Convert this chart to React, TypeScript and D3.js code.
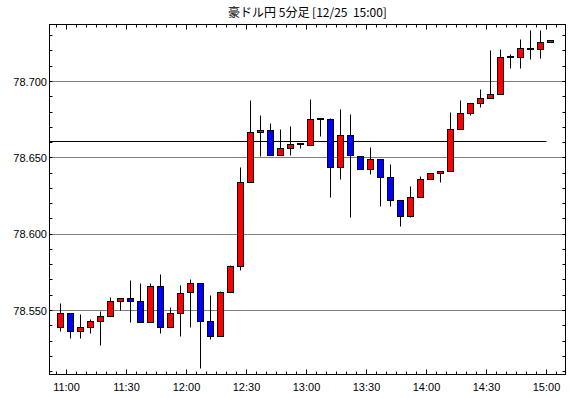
import React from "react";
import * as d3 from "d3";

const title = "豪ドル円 5分足 [12/25  15:00]";
const times = [
  "10:55","11:00","11:05","11:10","11:15","11:20","11:25","11:30","11:35","11:40",
  "11:45","11:50","11:55","12:00","12:05","12:10","12:15","12:20","12:25","12:30",
  "12:35","12:40","12:45","12:50","12:55","13:00","13:05","13:10","13:15","13:20",
  "13:25","13:30","13:35","13:40","13:45","13:50","13:55","14:00","14:05","14:10",
  "14:15","14:20","14:25","14:30","14:35","14:40","14:45","14:50","14:55","15:00",
];
const open = [
  78.5391,78.5483,78.5365,78.5391,78.5431,78.5463,78.5562,78.5581,78.5562,78.5424,
  78.5660,78.5391,78.5483,78.5620,78.5679,78.5431,78.5332,78.5621,78.5791,78.6341,
  78.6668,78.6682,78.6518,78.6564,78.6590,78.6583,78.6754,78.6754,78.6439,78.6649,
  78.6511,78.6422,78.6492,78.6374,78.6223,78.6118,78.6243,78.6361,78.6400,78.6413,
  78.6688,78.6793,78.6859,78.6891,78.6917,78.7160,78.7160,78.7216,78.7212,78.7258,
];
const high = [
  78.5544,78.5483,78.5472,78.5444,78.5493,78.5583,78.5581,78.5699,78.5675,78.5675,
  78.5734,78.5522,78.5662,78.5701,78.5679,78.5596,78.5625,78.5795,78.6435,78.6874,
  78.6775,78.6723,78.6684,78.6703,78.6590,78.6880,78.6754,78.6760,78.6815,78.6782,
  78.6511,78.6566,78.6492,78.6454,78.6223,78.6312,78.6376,78.6400,78.6413,78.6795,
  78.6874,78.6859,78.6946,78.7201,78.7212,78.7180,78.7273,78.7332,78.7332,78.7271,
];
const low = [
  78.5362,78.5317,78.5317,78.5349,78.5271,78.5463,78.5503,78.5424,78.5424,78.5424,
  78.5349,78.5391,78.5330,78.5389,78.5118,78.5310,78.5332,78.5621,78.5762,78.6341,
  78.6509,78.6518,78.6518,78.6518,78.6564,78.6583,78.6640,78.6243,78.6361,78.6112,
  78.6422,78.6393,78.6181,78.6181,78.6050,78.6112,78.6243,78.6361,78.6338,78.6413,
  78.6688,78.6777,78.6830,78.6891,78.6917,78.7085,78.7085,78.7147,78.7149,78.7258,
];
const close = [
  78.5483,78.5365,78.5391,78.5431,78.5463,78.5562,78.5581,78.5562,78.5424,78.5660,
  78.5391,78.5483,78.5614,78.5679,78.5431,78.5332,78.5621,78.5788,78.6341,78.6668,
  78.6682,78.6518,78.6564,78.6590,78.6590,78.6754,78.6754,78.6439,78.6649,78.6513,
  78.6422,78.6492,78.6374,78.6223,78.6118,78.6243,78.6361,78.6400,78.6413,78.6688,
  78.6793,78.6859,78.6891,78.6917,78.7160,78.7160,78.7219,78.7216,78.7258,78.7271,
];
const refLevel = 78.6605;
const yTickLabels = ["78.550", "78.600", "78.650", "78.700"];
const xTickLabels = ["11:00", "11:30", "12:00", "12:30", "13:00", "13:30", "14:00", "14:30", "15:00"];

const toMin = (s: string) => {
  const [h, m] = s.split(":").map(Number);
  return h * 60 + m;
};

export default function App() {
  const W = 570, H = 398;
  const left = 49.5, right = 565.5, top = 24.5, bottom = 374.5;
  const x = d3.scaleLinear().domain([660, 690]).range([66.5, 126.5]);
  const y = d3.scaleLinear().domain([78.55, 78.7]).range([310.5, 81.5]);
  const domMin = x.invert(left), domMax = x.invert(right);
  const minuteTicks = d3.range(Math.ceil(domMin / 5) * 5, domMax, 5);
  const vMin = y.invert(bottom), vMax = y.invert(top);
  const yMinor = d3.range(Math.ceil(vMin * 100) / 100, vMax, 0.01);
  const font = "'Liberation Sans', Arial, sans-serif";
  const snap = (v: number) => Math.round(v - 0.5) + 0.5;

  return (
    <svg width={W} height={H} style={{ position: "absolute", left: 0, top: 0, background: "#fff" }}>
      <rect x={0} y={0} width={W} height={H} fill="#fff" />
      <text x={(left + right) / 2} y={17} textAnchor="middle" fontSize={12}
        fontFamily="'Noto Sans CJK JP', sans-serif" fill="#000" style={{ whiteSpace: "pre" }}>{title}</text>
      {yTickLabels.map((t) => (
        <line key={"g" + t} x1={left} x2={right} y1={snap(y(+t))} y2={snap(y(+t))}
          stroke="#000" strokeDasharray="1,1" />
      ))}
      <line x1={left} x2={snap(x(toMin("15:00")))} y1={snap(y(refLevel))} y2={snap(y(refLevel))} stroke="#000" />
      {times.map((t, i) => {
        const cx = snap(x(toMin(t)) + 4);
        const o = open[i], c = close[i];
        const yh = snap(y(high[i])), yl = snap(y(low[i]));
        const wick = <line x1={cx} x2={cx} y1={yh} y2={yl} stroke="#000" />;
        if (o === c) {
          const yy = Math.round(y(o));
          return (
            <g key={t}>
              {wick}
              <line x1={cx - 3.5} x2={cx + 3.5} y1={yy} y2={yy} stroke="#000" strokeWidth={2} />
            </g>
          );
        }
        const yt = snap(y(Math.max(o, c))), yb = snap(y(Math.min(o, c)));
        return (
          <g key={t}>
            {wick}
            <rect x={cx - 3} y={yt} width={6} height={Math.max(1, yb - yt)}
              fill={c > o ? "#ff0000" : "#0000ff"} stroke="#000" />
          </g>
        );
      })}
      <rect x={left} y={top} width={right - left} height={bottom - top} fill="none" stroke="#000" />
      {minuteTicks.map((m) => {
        const xx = snap(x(m));
        const len = m % 30 === 0 ? 5 : 3;
        return (
          <g key={"xt" + m}>
            <line x1={xx} x2={xx} y1={bottom} y2={bottom - len} stroke="#000" />
            <line x1={xx} x2={xx} y1={top} y2={top + len} stroke="#000" />
          </g>
        );
      })}
      {yMinor.map((v) => {
        const yy = snap(y(v));
        return (
          <g key={"yt" + v.toFixed(3)}>
            <line x1={left} x2={left + 3} y1={yy} y2={yy} stroke="#000" />
            <line x1={right} x2={right - 3} y1={yy} y2={yy} stroke="#000" />
          </g>
        );
      })}
      {yTickLabels.map((t) => (
        <text key={"yl" + t} x={47} y={y(+t) + 4} textAnchor="end" fontSize={11} fontFamily={font} fill="#000">{t}</text>
      ))}
      {xTickLabels.map((t) => (
        <text key={"xl" + t} x={x(toMin(t))} y={391} textAnchor="middle" fontSize={11} fontFamily={font} fill="#000">{t}</text>
      ))}
    </svg>
  );
}
